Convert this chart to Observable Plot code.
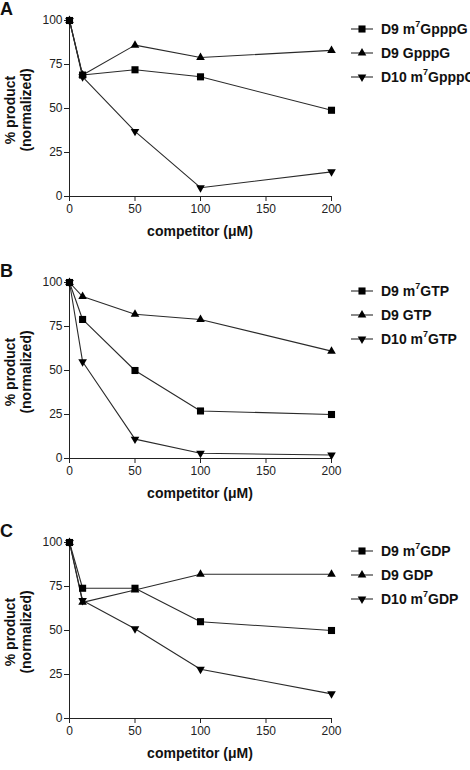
<!DOCTYPE html>
<html><head><meta charset="utf-8">
<script src="https://cdn.jsdelivr.net/npm/d3@7"></script>
<script src="https://cdn.jsdelivr.net/npm/@observablehq/plot@0.6"></script>
<style>
body{margin:0;width:470px;height:770px;overflow:hidden;background:#fff;font-family:"Liberation Sans",Arial,sans-serif;position:relative;color:#111}
.panel{position:absolute;left:0;width:470px;height:260px}
.panel svg.plot{position:absolute;left:0;top:0}
.letter{position:absolute;left:0;top:0;font-weight:bold;font-size:18px;line-height:18px}
.ylab{position:absolute;left:18px;top:110px;width:0;height:0}
.ylab div{position:absolute;transform:translate(-50%,-50%) rotate(-90deg);white-space:nowrap;font-weight:bold;font-size:14px;line-height:16px;text-align:center}
.xlab{position:absolute;left:200px;transform:translate(-50%,-50%);font-weight:bold;font-size:14px;white-space:nowrap}
.legend{position:absolute;left:351px;top:0}
.row{position:absolute;left:0;height:20px;display:flex;align-items:center;white-space:nowrap;font-weight:bold;font-size:14px}
.row svg{margin-right:8px}
sup{font-size:9px;vertical-align:7px;line-height:0}
</style></head><body>
<script>
const conc = [0, 10, 50, 100, 200];
const xTicks = [0, 50, 100, 150, 200];
const yTicks = [0, 25, 50, 75, 100];
const panelLetters = ["A", "B", "C"];
const xTitle = "competitor (\u03bcM)";
const yTitle = ["% product", "(normalized)"];

const legendA = ["D9 m7GpppG", "D9 GpppG", "D10 m7GpppG"];
const legendB = ["D9 m7GTP", "D9 GTP", "D10 m7GTP"];
const legendC = ["D9 m7GDP", "D9 GDP", "D10 m7GDP"];

const A_sq = [100, 69, 72, 68, 49];
const A_up = [100, 69, 86, 79, 83];
const A_dn = [100, 68, 37, 5, 14];

const B_sq = [100, 79, 50, 27, 25];
const B_up = [100, 92, 82, 79, 61];
const B_dn = [100, 55, 11, 3, 2];

const C_sq = [100, 74, 74, 55, 50];
const C_up = [100, 66, 73, 82, 82];
const C_dn = [100, 67, 51, 28, 14];

const panels = [
  {top: 0, letter: panelLetters[0], labels: legendA, series: [A_sq, A_up, A_dn]},
  {top: 262, letter: panelLetters[1], labels: legendB, series: [B_sq, B_up, B_dn]},
  {top: 522, letter: panelLetters[2], labels: legendC, series: [C_sq, C_up, C_dn]}
];

const symbols = [
  {symbol: "square", r: 4, rotate: 0},
  {symbol: "triangle", r: 3.2, rotate: 0},
  {symbol: "triangle", r: 3.2, rotate: 180}
];

function labelHTML(s) {
  return s.replace(/m7/, "m<sup>7</sup>");
}

for (const p of panels) {
  const div = document.createElement("div");
  div.className = "panel";
  div.style.top = p.top + "px";
  document.body.appendChild(div);

  const rows = [];
  p.series.forEach((vals, si) => {
    vals.forEach((v, i) => rows.push({series: si, x: conc[i], y: v}));
  });
  const order = [2, 1, 0];
  const marks = [
    Plot.axisX({ticks: xTicks, tickSize: 5, tickPadding: 3, label: null, stroke: "#222", fill: "#222"}),
    Plot.axisY({ticks: yTicks, tickSize: 5, tickPadding: 2, label: null, stroke: "#222", fill: "#222"}),
    Plot.ruleX([0], {stroke: "#222"}),
    Plot.ruleY([0], {stroke: "#222"})
  ];
  for (const si of order) {
    const d = rows.filter(r => r.series === si);
    marks.push(Plot.line(d, {x: "x", y: "y", stroke: "#2a2a2a", strokeWidth: 1.1}));
  }
  for (const si of order) {
    const d = rows.filter(r => r.series === si);
    const s = symbols[si];
    marks.push(Plot.dot(d, {x: "x", y: "y", symbol: s.symbol, r: s.r, rotate: s.rotate, fill: "#000", stroke: "none"}));
  }
  const svg = Plot.plot({
    width: 345, height: 245,
    marginLeft: 69, marginRight: 14, marginTop: 20, marginBottom: 49,
    style: {fontFamily: '"Liberation Sans", Arial, sans-serif', fontSize: "12px", color: "#222", background: "transparent", overflow: "visible"},
    x: {domain: [0, 200]},
    y: {domain: [0, 100]},
    marks
  });
  svg.classList.add("plot");
  div.appendChild(svg);

  const letter = document.createElement("div");
  letter.className = "letter";
  letter.textContent = p.letter;
  div.appendChild(letter);

  const yl = document.createElement("div");
  yl.className = "ylab";
  yl.innerHTML = `<div>${yTitle[0]}<br>${yTitle[1]}</div>`;
  div.appendChild(yl);

  const xl = document.createElement("div");
  xl.className = "xlab";
  xl.style.top = "231px";
  xl.textContent = xTitle;
  div.appendChild(xl);

  const lg = document.createElement("div");
  lg.className = "legend";
  div.appendChild(lg);
  p.labels.forEach((lab, i) => {
    const row = document.createElement("div");
    row.className = "row";
    row.style.top = (19 + i * 24) + "px";
    const s = symbols[i];
    const sz = Math.PI * s.r * s.r;
    const path = d3.symbol(s.symbol === "square" ? d3.symbolSquare : d3.symbolTriangle, sz)();
    row.innerHTML = `<svg width="22" height="12" viewBox="0 0 22 12"><line x1="0" x2="22" y1="6" y2="6" stroke="#2a2a2a" stroke-width="1.1"/><path d="${path}" transform="translate(11,6) rotate(${s.rotate})" fill="#000"/></svg><span>${labelHTML(lab)}</span>`;
    lg.appendChild(row);
  });
}
</script>
</body></html>
